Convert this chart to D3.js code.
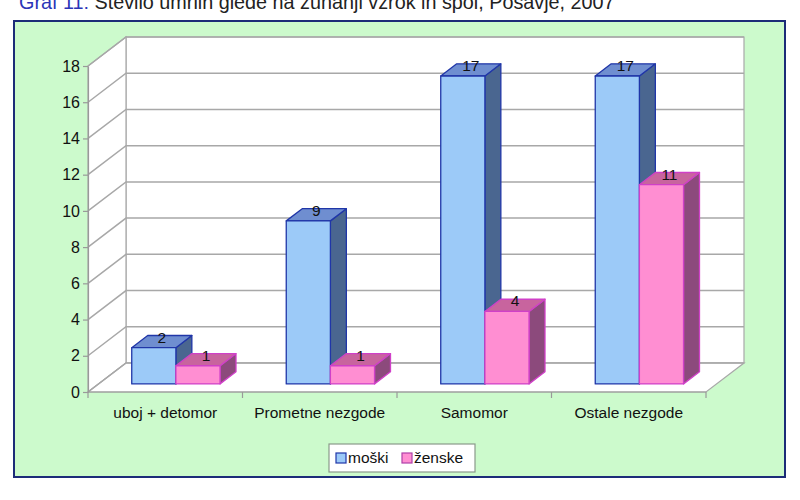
<!DOCTYPE html>
<html>
<head>
<meta charset="utf-8">
<script src="https://cdn.jsdelivr.net/npm/d3@7"></script>
<style>
  body { margin: 0; background: #fff; }
  text { font-family: "Liberation Sans", Arial, sans-serif; }
</style>
</head>
<body>
<svg id="chart" width="800" height="500"></svg>
<script>
// data
const categories = ["uboj + detomor", "Prometne nezgode", "Samomor", "Ostale nezgode"];
const seriesNames = ["moški", "ženske"];
const moski = [2, 9, 17, 17];
const zenske = [1, 1, 4, 11];
const yTicks = [0, 2, 4, 6, 8, 10, 12, 14, 16, 18];

const colors = {
  "moški": { front: "#9ccaf8", side: "#4a6690", top: "#6f8ed0", stroke: "#2036a8" },
  "ženske": { front: "#ff8ed2", side: "#8c4a7c", top: "#c8649e", stroke: "#d040c8" }
};

const svg = d3.select("#chart");

// depth of the 3D box
const DX = 38, DY = 29;
const plotLeft = 88, plotRight = 706, plotBottom = 392, plotTop = 66;

const x = d3.scaleBand()
  .domain(categories)
  .range([plotLeft, plotRight]);

const y = d3.scaleLinear()
  .domain([0, 18])
  .range([plotBottom, plotTop]);

// project a front point into depth d (0 = front, 1 = back)
function P(px, py, d) {
  return [px + d * DX, py - d * DY];
}
function poly(pts) {
  return "M" + pts.map(p => p.join(",")).join("L") + "Z";
}

// title (cut off at top of picture, as in the source)
const title = svg.append("text")
  .attr("x", 19).attr("y", 9)
  .attr("font-size", 19.8)
  .attr("fill", "#222");
title.append("tspan").attr("fill", "#2b35b8").text("Graf 11:");
title.append("tspan").text(" Število umrlih glede na zunanji vzrok in spol, Posavje, 2007");

// outer frame
svg.append("rect")
  .attr("x", 14).attr("y", 21)
  .attr("width", 771).attr("height", 456)
  .attr("fill", "#ccfacc")
  .attr("stroke", "#1c2c78")
  .attr("stroke-width", 2);

const wallStroke = "#a8a8a8";

// walls
svg.append("path")
  .attr("d", poly([P(plotLeft, y(0), 1), P(plotRight, y(0), 1), P(plotRight, y(18), 1), P(plotLeft, y(18), 1)]))
  .attr("fill", "#fff").attr("stroke", wallStroke).attr("stroke-width", 1.2);
svg.append("path")
  .attr("d", poly([P(plotLeft, y(0), 0), P(plotLeft, y(0), 1), P(plotLeft, y(18), 1), P(plotLeft, y(18), 0)]))
  .attr("fill", "#fff").attr("stroke", wallStroke).attr("stroke-width", 1.2);
svg.append("path")
  .attr("d", poly([P(plotLeft, y(0), 0), P(plotRight, y(0), 0), P(plotRight, y(0), 1), P(plotLeft, y(0), 1)]))
  .attr("fill", "#fff").attr("stroke", wallStroke).attr("stroke-width", 1.2);

// gridlines on back and side wall
const grid = svg.append("g")
  .attr("stroke", wallStroke)
  .attr("stroke-width", 1.5)
  .attr("fill", "none");
yTicks.forEach(v => {
  grid.append("path").attr("d", "M" + P(plotLeft, y(v), 0) + "L" + P(plotLeft, y(v), 1) + "L" + P(plotRight, y(v), 1));
});

// y axis
const yAxis = svg.append("g")
  .attr("transform", `translate(${plotLeft},0)`)
  .call(d3.axisLeft(y).tickValues(yTicks).tickSize(5).tickPadding(3).tickSizeOuter(0));
yAxis.selectAll("line, path").attr("stroke", "#999").attr("stroke-width", 1.2);
yAxis.selectAll("text")
  .attr("font-size", 16)
  .attr("fill", "#111")
  .style("font-family", "'Liberation Sans', Arial, sans-serif");

// x axis
const xAxis = svg.append("g")
  .attr("transform", `translate(0,${plotBottom})`);
xAxis.append("line")
  .attr("x1", plotLeft).attr("x2", plotRight)
  .attr("stroke", "#999").attr("stroke-width", 1.2);
const boundaries = categories.map(c => x(c)).concat([plotRight]);
xAxis.selectAll(".tick")
  .data(boundaries)
  .enter().append("line")
  .attr("x1", d => d).attr("x2", d => d)
  .attr("y1", 0).attr("y2", 6)
  .attr("stroke", "#999").attr("stroke-width", 1.2);
xAxis.selectAll(".lbl")
  .data(categories)
  .enter().append("text")
  .attr("x", d => x(d) + x.bandwidth() / 2)
  .attr("y", 26)
  .attr("text-anchor", "middle")
  .attr("font-size", 15.5)
  .attr("fill", "#111")
  .text(d => d);

// bars
const barW = x.bandwidth() / 3.5;
const gapW = barW * 0.75;
const d0 = 0.28, d1 = 0.70;
const series = [moski, zenske];

const bars = svg.append("g");
categories.forEach((c, i) => {
  series.forEach((vals, s) => {
    const name = seriesNames[s];
    const col = colors[name];
    const x0 = x(c) + gapW + s * barW, x1 = x0 + barW;
    const yb = y(0), yt = y(vals[i]);
    const g = bars.append("g")
      .attr("stroke", col.stroke)
      .attr("stroke-width", 1.3)
      .attr("stroke-linejoin", "round");
    g.append("path")
      .attr("d", poly([P(x1, yb, d0), P(x1, yb, d1), P(x1, yt, d1), P(x1, yt, d0)]))
      .attr("fill", col.side);
    g.append("path")
      .attr("d", poly([P(x0, yt, d0), P(x1, yt, d0), P(x1, yt, d1), P(x0, yt, d1)]))
      .attr("fill", col.top);
    g.append("path")
      .attr("d", poly([P(x0, yb, d0), P(x1, yb, d0), P(x1, yt, d0), P(x0, yt, d0)]))
      .attr("fill", col.front);
  });
});

// value labels on top of the bars
categories.forEach((c, i) => {
  series.forEach((vals, s) => {
    const xc = x(c) + gapW + s * barW + barW / 2;
    const p = P(xc, y(vals[i]), (d0 + d1) / 2);
    svg.append("text")
      .attr("x", p[0]).attr("y", p[1] + 1)
      .attr("text-anchor", "middle")
      .attr("font-size", 15.5)
      .attr("fill", "#111")
      .text(vals[i]);
  });
});

// legend
const legend = svg.append("g").attr("transform", "translate(329,444)");
legend.append("rect")
  .attr("width", 146).attr("height", 28)
  .attr("fill", "#fff")
  .attr("stroke", "#8a9a8a").attr("stroke-width", 1.2);
const items = legend.selectAll(".item")
  .data(seriesNames)
  .enter().append("g")
  .attr("transform", (d, i) => `translate(${7 + i * 66},9)`);
items.append("rect")
  .attr("width", 10).attr("height", 10)
  .attr("fill", d => colors[d].front)
  .attr("stroke", d => d === "moški" ? "#2036a8" : "#b040a8")
  .attr("stroke-width", 1.2);
items.append("text")
  .attr("x", 12).attr("y", 10)
  .attr("font-size", 15.5)
  .attr("fill", "#111")
  .text(d => d);
</script>
</body>
</html>
